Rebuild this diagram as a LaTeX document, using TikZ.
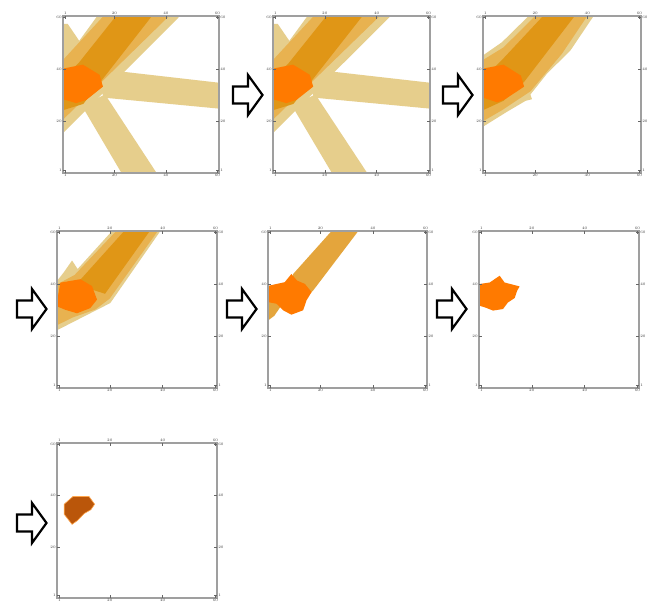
\documentclass[tikz,border=0pt]{standalone}
\usepackage{tikz}
\definecolor{lt}{RGB}{230,206,140}
\definecolor{md}{RGB}{232,178,80}
\definecolor{dk}{RGB}{224,150,22}
\definecolor{ct}{RGB}{255,122,0}
\definecolor{br}{RGB}{186,86,10}
\definecolor{bandor}{RGB}{228,165,60}
\tikzset{
  frame/.style={draw=gray!75,line width=1.3pt},
  tickmark/.style={draw=gray!80!black,line width=0.5pt},
  ticklab/.style={font=\fontsize{3.8pt}{4.2pt}\selectfont,text=gray!50!black,inner sep=1.2pt},
  blockarrow/.style={draw=black,line width=2.2pt,fill=white,line join=miter}
}
\newcommand{\panel}[6]{%
\begin{scope}[shift={(#2,#3)},x=#4pt,y=#5pt]
  \begin{scope}
    \clip (0,0) rectangle (1,1);
    #6
  \end{scope}
  \draw[frame] (0,0) rectangle (1,1);
  \foreach \t/\u in {1/0.015,20/0.33,40/0.66,60/0.99}{
    \draw[tickmark] (\u,0) -- ++(0,0.018);
    \draw[tickmark] (\u,1) -- ++(0,-0.018);
    \draw[tickmark] (0,\u) -- ++(0.018,0);
    \draw[tickmark] (1,\u) -- ++(-0.018,0);
    \node[ticklab,above] (#1top\t) at (\u,1) {\t};
    \node[ticklab,below] (#1bot\t) at (\u,0) {\t};
    \node[ticklab,left]  (#1lft\t) at (0,\u) {\t};
    \node[ticklab,right] (#1rgt\t) at (1,\u) {\t};
  }
\end{scope}}
\newcommand{\rarrow}[2]{%
\draw[blockarrow] ({#1-15},{#2-8.5}) -- ({#1},{#2-8.5}) -- ({#1},{#2-20}) -- ({#1+14.5},{#2}) -- ({#1},{#2+20}) -- ({#1},{#2+8.5}) -- ({#1-15},{#2+8.5}) -- cycle;}
\newcommand{\starburst}{%
  \fill[lt] (0,0.254) -- (0,0.70) -- (0.22,1) -- (0.75,1) -- cycle;
  \fill[lt] (0,0.95) -- (0.03,0.95) -- (0.16,0.76) -- (0.12,0.66) -- (0,0.68) -- cycle;
  \fill[lt] (0.22,0.62) -- (0.34,0.65) -- (1,0.575) -- (1,0.41) -- (0.26,0.48) -- cycle;
  \fill[lt] (0.12,0.43) -- (0.27,0.50) -- (0.60,0) -- (0.375,0) -- cycle;
  \fill[md] (0,0.34) -- (0,0.72) -- (0.26,1) -- (0.68,1) -- cycle;
  \fill[dk] (0,0.40) -- (0,0.60) -- (0.10,0.70) -- (0.34,1) -- (0.57,1) -- (0.24,0.58) -- (0.13,0.44) -- cycle;
  \fill[ct] (0,0.47) -- (0,0.665) -- (0.128,0.69) -- (0.235,0.625) -- (0.256,0.55) -- (0.15,0.466) -- (0.085,0.445) -- cycle;
}
\begin{document}
\begin{tikzpicture}[x=1pt,y=-1pt]
\useasboundingbox (0,0) rectangle (658,609);
\fill[white] (0,0) rectangle (658,609);
% row 1
\panel{pa}{63}{173}{156}{157}{\starburst}
\panel{pb}{273}{173}{157}{157}{\starburst}
\panel{pc}{483}{173}{158}{157}{%
  \fill[lt] (0,0.295) -- (0,0.749) -- (0.12,0.833) -- (0.289,1) -- (0.70,1) -- (0.553,0.78) -- (0.405,0.633) -- (0.30,0.50) -- (0.31,0.47) -- (0.27,0.46) -- (0.152,0.39) -- cycle;
  \fill[md] (0,0.33) -- (0,0.72) -- (0.13,0.80) -- (0.33,1) -- (0.66,1) -- (0.50,0.76) -- (0.30,0.52) -- (0.12,0.40) -- cycle;
  \fill[dk] (0,0.40) -- (0,0.60) -- (0.12,0.72) -- (0.38,1) -- (0.58,1) -- (0.26,0.58) -- (0.13,0.46) -- cycle;
  \fill[ct] (0,0.48) -- (0,0.665) -- (0.13,0.69) -- (0.24,0.62) -- (0.26,0.55) -- (0.14,0.47) -- (0.09,0.45) -- cycle;
}
% row 2
\panel{pd}{57}{388}{160}{157}{%
  \fill[lt] (0,0.368) -- (0,0.682) -- (0.042,0.736) -- (0.094,0.812) -- (0.129,0.758) -- (0.344,1) -- (0.646,1) -- (0.333,0.541) -- (0.25,0.498) -- (0.125,0.433) -- cycle;
  \fill[md] (0,0.40) -- (0,0.66) -- (0.11,0.72) -- (0.37,1) -- (0.63,1) -- (0.33,0.57) -- (0.24,0.50) -- (0.1,0.45) -- cycle;
  \fill[dk] (0.12,0.66) -- (0.42,1) -- (0.58,1) -- (0.30,0.60) -- cycle;
  \fill[ct] (0,0.55) -- (0.021,0.671) -- (0.146,0.693) -- (0.219,0.649) -- (0.25,0.563) -- (0.208,0.509) -- (0.125,0.476) -- (0.052,0.498) -- (0,0.52) -- cycle;
}
\panel{pe}{268}{388}{159}{157}{%
  \fill[bandor] (0,0.43) -- (0,0.60) -- (0.08,0.52) -- (0.04,0.46) -- cycle;
  \fill[bandor] (0.158,0.726) -- (0.4,1) -- (0.568,1) -- (0.284,0.621) -- (0.2,0.537) -- (0.12,0.6) -- cycle;
  \fill[ct] (0,0.642) -- (0.011,0.653) -- (0.105,0.674) -- (0.147,0.726) -- (0.183,0.684) -- (0.232,0.663) -- (0.274,0.611) -- (0.242,0.558) -- (0.221,0.495) -- (0.147,0.467) -- (0.095,0.495) -- (0.053,0.537) -- (0,0.547) -- cycle;
}
\panel{pf}{479}{388}{160}{157}{%
  \fill[ct] (0,0.662) -- (0.067,0.672) -- (0.129,0.715) -- (0.16,0.672) -- (0.254,0.647) -- (0.238,0.619) -- (0.223,0.573) -- (0.181,0.545) -- (0.15,0.503) -- (0.0875,0.493) -- (0.046,0.51) -- (0.004,0.524) -- cycle;
}
% row 3
\panel{pg}{57}{598}{160}{155}{%
  \filldraw[fill=br,draw=orange!70,line width=0.6pt] (0.045,0.605) -- (0.1,0.655) -- (0.2,0.655) -- (0.235,0.605) -- (0.212,0.57) -- (0.17,0.545) -- (0.128,0.5) -- (0.094,0.475) -- (0.068,0.51) -- (0.045,0.54) -- cycle;
}
% arrows
\rarrow{248}{95}
\rarrow{458}{95}
\rarrow{32}{309}
\rarrow{242}{309}
\rarrow{452}{309}
\rarrow{32}{523}
\end{tikzpicture}
\end{document}
